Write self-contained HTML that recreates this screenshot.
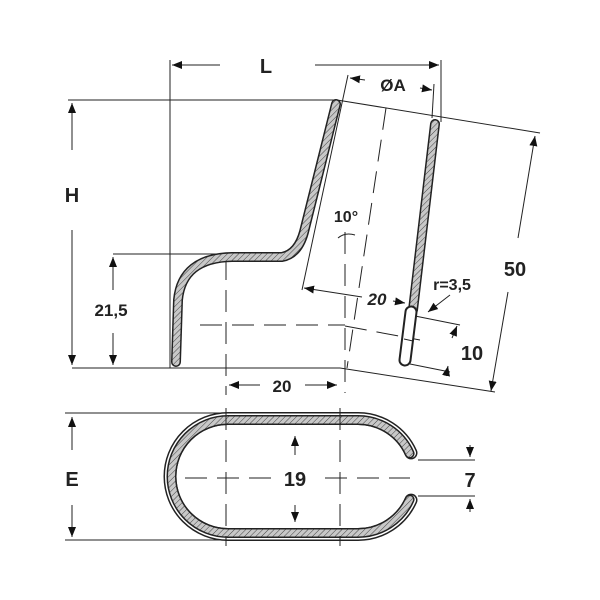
<!DOCTYPE html>
<html><head><meta charset="utf-8"><style>
html,body{margin:0;padding:0;background:#fff;width:600px;height:600px;overflow:hidden}
text{font-family:"Liberation Sans",sans-serif;font-weight:bold;fill:#222}
</style></head><body>
<svg width="600" height="600" viewBox="0 0 600 600" xmlns="http://www.w3.org/2000/svg">
<defs>
<pattern id="h" width="4" height="4" patternUnits="userSpaceOnUse" patternTransform="rotate(45)">
<rect width="4" height="4" fill="#c8c8c8"/><line x1="0" y1="0" x2="0" y2="4" stroke="#333" stroke-width="0.9"/>
</pattern>
<marker id="a" viewBox="0 0 10 10" refX="10" refY="5" markerWidth="10" markerHeight="10" markerUnits="userSpaceOnUse" orient="auto-start-reverse"><path d="M0,1 L10,5 L0,9z" fill="#111"/></marker>
</defs>
<g stroke="#222" stroke-width="1" fill="none">
<line x1="170" y1="60" x2="170" y2="368"/>
<line x1="441" y1="60" x2="441" y2="122"/>
<line x1="68" y1="100" x2="337" y2="100"/>
<line x1="113" y1="254" x2="240" y2="254"/>
<line x1="72" y1="368" x2="340" y2="368"/>
<line x1="340" y1="368" x2="495" y2="392"/>
<line x1="337" y1="100" x2="540" y2="133"/>
<line x1="348" y1="75" x2="302" y2="290"/>
<line x1="434" y1="84" x2="432" y2="118"/>
<line x1="415" y1="316" x2="460" y2="325"/>
<line x1="410" y1="364" x2="450" y2="372"/>
<line x1="172" y1="65" x2="220" y2="65" marker-start="url(#a)"/>
<line x1="315" y1="65" x2="439" y2="65" marker-end="url(#a)"/>
<line x1="72" y1="103" x2="72" y2="150" marker-start="url(#a)"/>
<line x1="72" y1="230" x2="72" y2="365" marker-end="url(#a)"/>
<line x1="113" y1="257" x2="113" y2="290" marker-start="url(#a)"/>
<line x1="113" y1="333" x2="113" y2="365" marker-end="url(#a)"/>
<line x1="229" y1="385" x2="260" y2="385" marker-start="url(#a)"/>
<line x1="305" y1="385" x2="337" y2="385" marker-end="url(#a)"/>
<line x1="350" y1="78" x2="365" y2="80" marker-start="url(#a)"/>
<line x1="420" y1="88" x2="432" y2="90" marker-end="url(#a)"/>
<line x1="535" y1="136" x2="518" y2="238" marker-start="url(#a)"/>
<line x1="508" y1="292" x2="491" y2="391" marker-end="url(#a)"/>
<line x1="304" y1="288" x2="362" y2="297" marker-start="url(#a)"/>
<line x1="393" y1="301" x2="405" y2="303" marker-end="url(#a)"/>
<line x1="457" y1="326" x2="452" y2="338" marker-start="url(#a)"/>
<line x1="448" y1="366" x2="446" y2="376" marker-start="url(#a)"/>
<line x1="450" y1="295" x2="428" y2="312" marker-end="url(#a)"/>
<g stroke-dasharray="22,10">
<line x1="345" y1="232" x2="345" y2="393"/>
<line x1="386" y1="108" x2="347" y2="368"/>
<line x1="200" y1="325" x2="345" y2="325"/>
<line x1="345" y1="326" x2="420" y2="340"/>
<line x1="226" y1="258" x2="226" y2="395"/>
</g>
<path d="M338,238 Q345,232 355,235"/>
</g>
<path d="M176,362 L178,300 Q182,258 232,257 L282,257 Q298,254 304,232 L336,104" stroke="#222" stroke-width="10" fill="none" stroke-linecap="round"/>
<path d="M176,362 L178,300 Q182,258 232,257 L282,257 Q298,254 304,232 L336,104" stroke="url(#h)" stroke-width="7" fill="none" stroke-linecap="round"/>
<path d="M435,124 L413,310" stroke="#222" stroke-width="10" stroke-linecap="round"/>
<path d="M435,124 L413,310" stroke="url(#h)" stroke-width="7" stroke-linecap="round"/>
<path d="M411,312 L405,360" stroke="#222" stroke-width="13" stroke-linecap="round"/>
<path d="M411,312 L405,360" stroke="#fff" stroke-width="9" stroke-linecap="round"/>
<line x1="404" y1="339" x2="413" y2="341" stroke="#222"/>
<!-- bottom view -->
<g fill="none" stroke-linecap="round">
<path d="M411,452.9 A58,58 0 0 0 358,418.5 L228,418.5 A58,58 0 0 0 228,534.5 L358,534.5 A58,58 0 0 0 411,500.1" stroke="#222" stroke-width="13"/>
<path d="M411,452.9 A58,58 0 0 0 358,418.5 L228,418.5 A58,58 0 0 0 228,534.5 L358,534.5 A58,58 0 0 0 411,500.1" stroke="#fff" stroke-width="10"/>
<path d="M409.6,453.5 A56.5,56.5 0 0 0 358,420 L228,420 A56.5,56.5 0 0 0 228,533 L358,533 A56.5,56.5 0 0 0 409.6,499.5" stroke="#222" stroke-width="10"/>
<path d="M409.6,453.5 A56.5,56.5 0 0 0 358,420 L228,420 A56.5,56.5 0 0 0 228,533 L358,533 A56.5,56.5 0 0 0 409.6,499.5" stroke="url(#h)" stroke-width="7"/>
</g>
<g stroke="#222" stroke-width="1" fill="none">
<line x1="65" y1="413" x2="228" y2="413"/>
<line x1="65" y1="540" x2="228" y2="540"/>
<line x1="72" y1="417" x2="72" y2="450" marker-start="url(#a)"/>
<line x1="72" y1="505" x2="72" y2="537" marker-end="url(#a)"/>
<line x1="418" y1="460" x2="475" y2="460"/>
<line x1="418" y1="496" x2="475" y2="496"/>
<line x1="470" y1="445" x2="470" y2="457" marker-end="url(#a)"/>
<line x1="470" y1="512" x2="470" y2="499" marker-end="url(#a)"/>
<line x1="295" y1="455" x2="295" y2="436" marker-end="url(#a)"/>
<line x1="295" y1="505" x2="295" y2="522" marker-end="url(#a)"/>
<g stroke-dasharray="22,10">
<line x1="226" y1="408" x2="226" y2="546"/>
<line x1="340" y1="408" x2="340" y2="546"/>
<line x1="185" y1="478" x2="275" y2="478"/>
<line x1="325" y1="478" x2="410" y2="478"/>
</g>
</g>
<text x="266" y="73" font-size="20" text-anchor="middle">L</text>
<text x="393" y="91" font-size="17" text-anchor="middle">ØA</text>
<text x="72" y="202" font-size="20" text-anchor="middle">H</text>
<text x="111" y="316" font-size="17" text-anchor="middle">21,5</text>
<text x="282" y="392" font-size="17" text-anchor="middle">20</text>
<text x="346" y="222" font-size="16" text-anchor="middle">10°</text>
<text x="377" y="305" font-size="17" text-anchor="middle" font-style="italic">20</text>
<text x="452" y="290" font-size="16" text-anchor="middle">r=3,5</text>
<text x="515" y="276" font-size="20" text-anchor="middle">50</text>
<text x="472" y="360" font-size="20" text-anchor="middle">10</text>
<text x="72" y="486" font-size="20" text-anchor="middle">E</text>
<text x="295" y="486" font-size="20" text-anchor="middle">19</text>
<text x="470" y="487" font-size="20" text-anchor="middle">7</text>
</svg>
</body></html>
